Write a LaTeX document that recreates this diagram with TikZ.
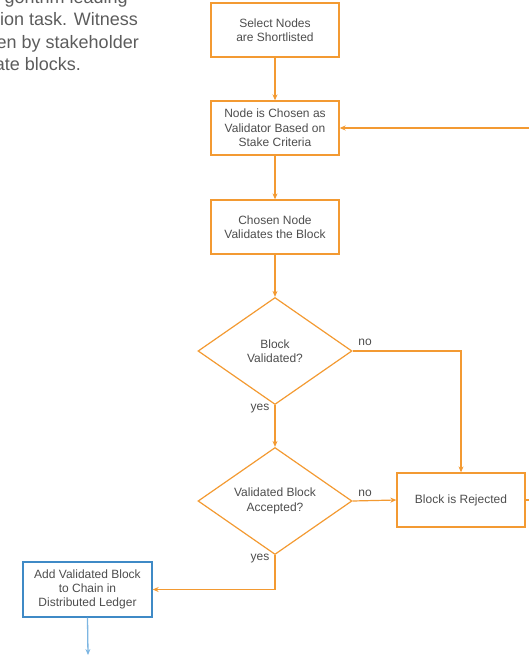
\documentclass[tikz,border=0pt]{standalone}
\usepackage{fontspec}
\setmainfont{Liberation Sans}
\usetikzlibrary{shapes.geometric,arrows.meta}
\definecolor{org}{HTML}{F39A32}
\definecolor{txt}{HTML}{4D4D4D}
\definecolor{para}{HTML}{5C5C5C}
\definecolor{blu}{HTML}{3F8AC6}
\definecolor{lblu}{HTML}{7DB6E2}
\begin{document}
\begin{tikzpicture}[x=1pt,y=-1pt,
  box/.style={draw=org,line width=1.3pt,minimum width=128pt,minimum height=54pt,inner sep=0pt,align=center,font=\fontsize{12}{14.3}\selectfont,text=txt},
  dia/.style={draw=org,line width=1.2pt,diamond,aspect=1.44,minimum width=154pt,minimum height=107pt,inner sep=0pt,align=center,font=\fontsize{12}{14.3}\selectfont,text=txt},
  con/.style={draw=org,line width=1.2pt,-{Stealth[length=6pt,width=5pt]}},
  lab/.style={font=\fontsize{12}{14}\selectfont,text=txt},
  para/.style={anchor=base east,font=\fontsize{18}{22}\selectfont,text=para,inner sep=0pt}]
\useasboundingbox (0,0) rectangle (529,655);
\clip (0,0) rectangle (529,655);
% paragraph fragment
\node[para] (p1) at (128,3.5) {gorithm leading};
\node[para] (p2) at (138,26) {ion task. Witness};
\node[para] (p3) at (139,48.5) {en by stakeholder};
\node[para] (p4) at (81,71) {ate blocks.};
% nodes
\node[box] (n1) at (275,30) {Select Nodes\\are Shortlisted};
\node[box] (n2) at (275,128) {Node is Chosen as\\Validator Based on\\Stake Criteria};
\node[box] (n3) at (275,227) {Chosen Node\\Validates the Block};
\node[dia] (d1) at (275,351) {Block\\Validated?};
\node[dia] (d2) at (275,501) {Validated Block\\Accepted?};
\node[box] (rej) at (461,500) {Block is Rejected};
\node[box,draw=blu,minimum width=129pt,minimum height=55pt] (add) at (87.5,589.5) {Add Validated Block\\to Chain in\\Distributed Ledger};
% connectors
\draw[con] (n1) -- (n2);
\draw[con] (n2) -- (n3);
\draw[con] (n3) -- (d1);
\draw[con] (d1.east) -| (rej.north);
\node[lab] (no1) at (365,342) {no};
\draw[con] (d1.south) -- (d2.north);
\node[lab] (yes1) at (260,409) {yes};
\draw[con] (d2.east) -- (rej.west);
\node[lab] (no2) at (365,493) {no};
\draw[con] (d2.south) |- (add.east);
\node[lab] (yes2) at (260,559) {yes};
\coordinate (r1) at (545,500);
\draw[con] (rej.east) -- (r1) |- (n2.east);
\coordinate (out) at (88,655);
\draw[draw=lblu,line width=1.3pt,-{Stealth[length=6pt,width=5pt]}] (add.south) -- (out);
\end{tikzpicture}
\end{document}
